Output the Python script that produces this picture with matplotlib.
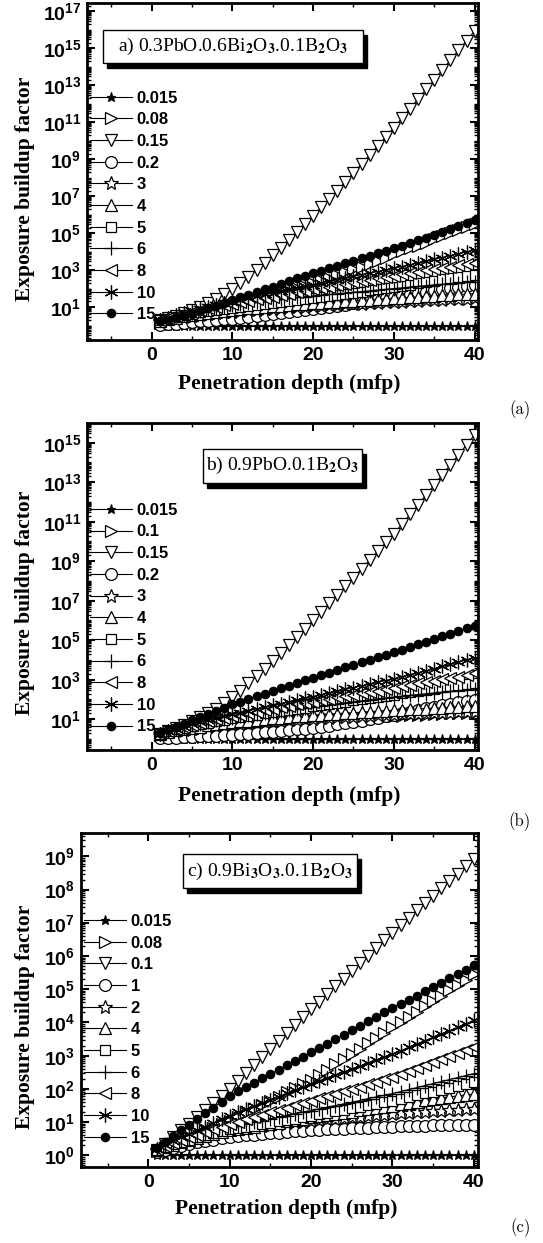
import numpy as np
import matplotlib
matplotlib.use('Agg')
import matplotlib.pyplot as plt
from matplotlib.patches import Rectangle
from matplotlib.ticker import (FixedLocator, LogLocator, MultipleLocator,
                               FuncFormatter, NullFormatter)

plt.rcParams['font.family'] = 'Liberation Sans'
plt.rcParams['font.weight'] = 'bold'
plt.rcParams['mathtext.fontset'] = 'custom'
plt.rcParams['mathtext.rm'] = 'Liberation Sans'
plt.rcParams['mathtext.bf'] = 'Liberation Sans:bold'

# penetration depth (mfp)
depth = [1, 2, 3, 4, 5, 6, 7, 8, 9, 10, 11, 12, 13, 14, 15, 16, 17, 18, 19, 20,
         21, 22, 23, 24, 25, 26, 27, 28, 29, 30, 31, 32, 33, 34, 35, 36, 37, 38, 39, 40]

# photon energies (MeV), legend order
energies_a = ['0.015', '0.08', '0.15', '0.2', '3', '4', '5', '6', '8', '10', '15']
energies_b = ['0.015', '0.1', '0.15', '0.2', '3', '4', '5', '6', '8', '10', '15']
energies_c = ['0.015', '0.08', '0.1', '1', '2', '4', '5', '6', '8', '10', '15']

# log10 of exposure buildup factor
# a) 0.3PbO.0.6Bi2O3.0.1B2O3
a_0015 = [0.00, 0.00, 0.00, 0.00, 0.00, 0.00, 0.00, 0.00, 0.00, 0.00, 0.00, 0.00, 0.00, 0.00, 0.00, 0.00, 0.00, 0.00, 0.00, 0.00,
          0.00, 0.00, 0.00, 0.00, 0.00, 0.00, 0.00, 0.00, 0.00, 0.00, 0.00, 0.00, 0.00, 0.00, 0.00, 0.00, 0.00, 0.00, 0.00, 0.00]
a_008 = [0.15, 0.23, 0.31, 0.40, 0.49, 0.58, 0.68, 0.78, 0.89, 1.00, 1.12, 1.24, 1.36, 1.49, 1.62, 1.75, 1.88, 2.02, 2.16, 2.30,
         2.44, 2.59, 2.74, 2.89, 3.04, 3.19, 3.35, 3.51, 3.68, 3.85, 4.01, 4.17, 4.33, 4.49, 4.66, 4.82, 4.99, 5.16, 5.33, 5.50]
a_015 = [0.30, 0.40, 0.52, 0.66, 0.82, 1.00, 1.20, 1.43, 1.69, 1.98, 2.30, 2.64, 3.01, 3.40, 3.80, 4.21, 4.63, 5.06, 5.50, 5.94,
         6.39, 6.84, 7.30, 7.78, 8.26, 8.74, 9.22, 9.71, 10.20, 10.70, 11.22, 11.74, 12.26, 12.78, 13.30, 13.83, 14.36, 14.89, 15.41, 15.93]
a_02 = [0.04, 0.08, 0.11, 0.15, 0.19, 0.22, 0.26, 0.30, 0.34, 0.38, 0.43, 0.47, 0.52, 0.57, 0.62, 0.67, 0.72, 0.77, 0.83, 0.89,
        0.95, 1.01, 1.07, 1.13, 1.20, 1.27, 1.34, 1.41, 1.48, 1.56, 1.63, 1.70, 1.77, 1.84, 1.91, 1.98, 2.04, 2.10, 2.15, 2.20]
a_3 = [0.25, 0.33, 0.40, 0.46, 0.52, 0.57, 0.62, 0.67, 0.71, 0.75, 0.79, 0.82, 0.86, 0.89, 0.92, 0.95, 0.98, 1.00, 1.03, 1.05,
       1.08, 1.10, 1.12, 1.15, 1.17, 1.19, 1.21, 1.24, 1.26, 1.28, 1.30, 1.32, 1.34, 1.36, 1.38, 1.40, 1.42, 1.44, 1.46, 1.48]
a_4 = [0.27, 0.35, 0.43, 0.50, 0.57, 0.63, 0.69, 0.75, 0.80, 0.85, 0.89, 0.93, 0.97, 1.01, 1.04, 1.08, 1.11, 1.14, 1.17, 1.20,
       1.23, 1.26, 1.29, 1.32, 1.35, 1.37, 1.40, 1.43, 1.45, 1.48, 1.50, 1.53, 1.55, 1.58, 1.60, 1.63, 1.65, 1.68, 1.70, 1.73]
a_5 = [0.28, 0.38, 0.47, 0.56, 0.64, 0.71, 0.78, 0.84, 0.90, 0.95, 1.01, 1.06, 1.11, 1.16, 1.21, 1.27, 1.32, 1.37, 1.42, 1.48,
       1.54, 1.60, 1.66, 1.72, 1.78, 1.84, 1.90, 1.96, 2.02, 2.08, 2.15, 2.22, 2.29, 2.36, 2.43, 2.50, 2.57, 2.63, 2.69, 2.75]
a_6 = [0.28, 0.40, 0.51, 0.61, 0.70, 0.79, 0.87, 0.95, 1.03, 1.10, 1.16, 1.22, 1.28, 1.33, 1.38, 1.43, 1.47, 1.52, 1.56, 1.60,
       1.64, 1.68, 1.72, 1.76, 1.80, 1.84, 1.88, 1.92, 1.96, 2.00, 2.04, 2.08, 2.12, 2.16, 2.20, 2.23, 2.27, 2.31, 2.34, 2.38]
a_8 = [0.30, 0.42, 0.53, 0.64, 0.74, 0.84, 0.93, 1.01, 1.09, 1.17, 1.25, 1.33, 1.41, 1.49, 1.57, 1.65, 1.72, 1.80, 1.88, 1.95,
       2.03, 2.10, 2.18, 2.25, 2.33, 2.40, 2.48, 2.55, 2.62, 2.70, 2.77, 2.84, 2.91, 2.98, 3.05, 3.12, 3.19, 3.25, 3.32, 3.38]
a_10 = [0.30, 0.43, 0.55, 0.67, 0.78, 0.89, 1.00, 1.10, 1.20, 1.30, 1.40, 1.50, 1.60, 1.69, 1.78, 1.87, 1.96, 2.05, 2.13, 2.22,
        2.31, 2.40, 2.48, 2.57, 2.66, 2.75, 2.83, 2.92, 3.01, 3.10, 3.19, 3.29, 3.38, 3.48, 3.58, 3.68, 3.78, 3.88, 3.98, 4.08]
a_15 = [0.22, 0.32, 0.42, 0.52, 0.63, 0.78, 0.93, 1.08, 1.23, 1.39, 1.53, 1.67, 1.81, 1.96, 2.11, 2.26, 2.40, 2.55, 2.70, 2.84,
        2.97, 3.10, 3.23, 3.36, 3.50, 3.64, 3.77, 3.91, 4.05, 4.19, 4.33, 4.47, 4.61, 4.76, 4.91, 5.07, 5.23, 5.39, 5.56, 5.73]

# b) 0.9PbO.0.1B2O3
b_0015 = [0.00, 0.00, 0.00, 0.00, 0.00, 0.00, 0.00, 0.00, 0.00, 0.00, 0.00, 0.00, 0.00, 0.00, 0.00, 0.00, 0.00, 0.00, 0.00, 0.00,
          0.00, 0.00, 0.00, 0.00, 0.00, 0.00, 0.00, 0.00, 0.00, 0.00, 0.00, 0.00, 0.00, 0.00, 0.00, 0.00, 0.00, 0.00, 0.00, 0.00]
b_01 = [0.20, 0.27, 0.33, 0.39, 0.45, 0.50, 0.55, 0.60, 0.65, 0.70, 0.73, 0.76, 0.78, 0.81, 0.83, 0.86, 0.88, 0.91, 0.93, 0.95,
        0.97, 0.99, 1.01, 1.03, 1.05, 1.07, 1.09, 1.11, 1.13, 1.15, 1.17, 1.19, 1.21, 1.23, 1.25, 1.27, 1.29, 1.31, 1.32, 1.33]
b_015 = [0.25, 0.40, 0.55, 0.72, 0.90, 1.10, 1.31, 1.54, 1.80, 2.10, 2.45, 2.81, 3.18, 3.56, 3.95, 4.35, 4.75, 5.16, 5.58, 6.00,
         6.43, 6.86, 7.29, 7.73, 8.17, 8.61, 9.05, 9.50, 9.95, 10.40, 10.88, 11.37, 11.86, 12.36, 12.87, 13.37, 13.88, 14.38, 14.89, 15.40]
b_02 = [0.03, 0.05, 0.07, 0.09, 0.11, 0.13, 0.15, 0.17, 0.19, 0.21, 0.24, 0.27, 0.30, 0.33, 0.36, 0.40, 0.44, 0.48, 0.52, 0.57,
        0.62, 0.68, 0.74, 0.80, 0.86, 0.93, 1.00, 1.07, 1.15, 1.23, 1.31, 1.39, 1.47, 1.55, 1.63, 1.71, 1.78, 1.85, 1.91, 1.97]
b_3 = [0.25, 0.33, 0.40, 0.46, 0.52, 0.57, 0.62, 0.67, 0.71, 0.75, 0.78, 0.81, 0.84, 0.87, 0.90, 0.93, 0.95, 0.98, 1.00, 1.03,
       1.05, 1.07, 1.09, 1.11, 1.13, 1.15, 1.17, 1.19, 1.20, 1.22, 1.24, 1.26, 1.28, 1.29, 1.31, 1.33, 1.34, 1.36, 1.37, 1.38]
b_4 = [0.27, 0.35, 0.43, 0.50, 0.57, 0.63, 0.69, 0.75, 0.80, 0.85, 0.89, 0.93, 0.97, 1.01, 1.04, 1.08, 1.11, 1.14, 1.17, 1.20,
       1.23, 1.26, 1.28, 1.31, 1.33, 1.36, 1.38, 1.41, 1.43, 1.45, 1.47, 1.50, 1.52, 1.54, 1.56, 1.58, 1.60, 1.63, 1.65, 1.67]
b_5 = [0.27, 0.38, 0.48, 0.58, 0.67, 0.75, 0.83, 0.91, 0.98, 1.05, 1.11, 1.17, 1.23, 1.29, 1.35, 1.41, 1.47, 1.53, 1.59, 1.65,
       1.71, 1.77, 1.83, 1.89, 1.95, 2.01, 2.07, 2.13, 2.19, 2.25, 2.31, 2.37, 2.43, 2.49, 2.55, 2.61, 2.67, 2.72, 2.77, 2.82]
b_6 = [0.27, 0.39, 0.50, 0.60, 0.69, 0.78, 0.86, 0.94, 1.01, 1.08, 1.14, 1.20, 1.26, 1.32, 1.38, 1.43, 1.48, 1.53, 1.58, 1.63,
       1.68, 1.73, 1.78, 1.83, 1.88, 1.93, 1.98, 2.03, 2.08, 2.13, 2.17, 2.21, 2.25, 2.29, 2.33, 2.37, 2.41, 2.44, 2.48, 2.51]
b_8 = [0.28, 0.40, 0.51, 0.62, 0.72, 0.82, 0.91, 0.99, 1.07, 1.15, 1.23, 1.31, 1.39, 1.46, 1.54, 1.61, 1.68, 1.75, 1.82, 1.89,
       1.96, 2.03, 2.10, 2.17, 2.24, 2.31, 2.38, 2.45, 2.52, 2.60, 2.67, 2.74, 2.81, 2.88, 2.95, 3.02, 3.09, 3.16, 3.24, 3.32]
b_10 = [0.25, 0.38, 0.50, 0.62, 0.74, 0.85, 0.95, 1.05, 1.15, 1.25, 1.34, 1.43, 1.52, 1.61, 1.70, 1.79, 1.88, 1.97, 2.06, 2.15,
        2.24, 2.33, 2.42, 2.51, 2.60, 2.69, 2.78, 2.87, 2.96, 3.05, 3.15, 3.25, 3.35, 3.45, 3.56, 3.67, 3.78, 3.89, 4.00, 4.11]
b_15 = [0.29, 0.45, 0.62, 0.78, 0.95, 1.10, 1.26, 1.42, 1.58, 1.75, 1.89, 2.02, 2.16, 2.29, 2.43, 2.56, 2.70, 2.83, 2.97, 3.10,
        3.23, 3.36, 3.49, 3.62, 3.75, 3.88, 4.01, 4.14, 4.27, 4.40, 4.53, 4.66, 4.80, 4.93, 5.06, 5.20, 5.33, 5.46, 5.60, 5.73]

# c) 0.9Bi3O3.0.1B2O3
c_0015 = [0.00, 0.00, 0.00, 0.00, 0.00, 0.00, 0.00, 0.00, 0.00, 0.00, 0.00, 0.00, 0.00, 0.00, 0.00, 0.00, 0.00, 0.00, 0.00, 0.00,
          0.00, 0.00, 0.00, 0.00, 0.00, 0.00, 0.00, 0.00, 0.00, 0.00, 0.00, 0.00, 0.00, 0.00, 0.00, 0.00, 0.00, 0.00, 0.00, 0.00]
c_008 = [0.12, 0.22, 0.32, 0.42, 0.52, 0.62, 0.72, 0.83, 0.94, 1.05, 1.17, 1.29, 1.41, 1.53, 1.65, 1.77, 1.90, 2.02, 2.15, 2.28,
         2.43, 2.58, 2.74, 2.89, 3.05, 3.21, 3.37, 3.53, 3.69, 3.85, 4.01, 4.17, 4.33, 4.49, 4.65, 4.81, 4.97, 5.13, 5.29, 5.45]
c_01 = [0.15, 0.35, 0.55, 0.75, 0.95, 1.15, 1.36, 1.57, 1.78, 2.00, 2.24, 2.48, 2.72, 2.96, 3.20, 3.44, 3.68, 3.92, 4.16, 4.40,
        4.63, 4.86, 5.09, 5.32, 5.55, 5.78, 6.01, 6.24, 6.47, 6.70, 6.92, 7.14, 7.37, 7.59, 7.81, 8.04, 8.26, 8.48, 8.71, 8.93]
c_1 = [0.10, 0.17, 0.23, 0.29, 0.34, 0.39, 0.43, 0.47, 0.51, 0.55, 0.58, 0.60, 0.62, 0.64, 0.66, 0.68, 0.70, 0.72, 0.74, 0.76,
       0.77, 0.78, 0.80, 0.81, 0.82, 0.83, 0.84, 0.85, 0.86, 0.87, 0.88, 0.89, 0.90, 0.90, 0.91, 0.91, 0.92, 0.92, 0.93, 0.93]
c_2 = [0.15, 0.24, 0.32, 0.40, 0.47, 0.53, 0.59, 0.65, 0.70, 0.75, 0.79, 0.83, 0.86, 0.89, 0.92, 0.95, 0.98, 1.00, 1.02, 1.05,
       1.07, 1.09, 1.11, 1.13, 1.15, 1.17, 1.19, 1.21, 1.23, 1.25, 1.27, 1.29, 1.30, 1.32, 1.33, 1.35, 1.36, 1.37, 1.39, 1.40]
c_4 = [0.16, 0.24, 0.32, 0.39, 0.46, 0.52, 0.58, 0.64, 0.70, 0.75, 0.79, 0.83, 0.87, 0.91, 0.95, 0.99, 1.03, 1.07, 1.11, 1.15,
       1.18, 1.22, 1.25, 1.29, 1.32, 1.36, 1.39, 1.43, 1.46, 1.50, 1.54, 1.58, 1.62, 1.66, 1.70, 1.73, 1.76, 1.79, 1.82, 1.85]
c_5 = [0.17, 0.25, 0.33, 0.40, 0.47, 0.54, 0.60, 0.66, 0.72, 0.78, 0.82, 0.86, 0.90, 0.95, 0.99, 1.03, 1.07, 1.11, 1.16, 1.20,
       1.24, 1.29, 1.33, 1.38, 1.42, 1.47, 1.51, 1.56, 1.60, 1.65, 1.70, 1.76, 1.81, 1.87, 1.92, 1.98, 2.03, 2.09, 2.14, 2.20]
c_6 = [0.18, 0.27, 0.35, 0.43, 0.50, 0.57, 0.64, 0.71, 0.78, 0.85, 0.90, 0.95, 1.00, 1.05, 1.10, 1.15, 1.20, 1.25, 1.30, 1.35,
       1.40, 1.45, 1.50, 1.55, 1.60, 1.65, 1.71, 1.76, 1.81, 1.86, 1.92, 1.98, 2.04, 2.10, 2.16, 2.22, 2.28, 2.34, 2.40, 2.46]
c_8 = [0.18, 0.27, 0.36, 0.45, 0.54, 0.62, 0.70, 0.79, 0.87, 0.95, 1.02, 1.09, 1.16, 1.23, 1.30, 1.37, 1.44, 1.51, 1.58, 1.65,
       1.72, 1.79, 1.86, 1.93, 2.00, 2.07, 2.14, 2.22, 2.29, 2.36, 2.45, 2.54, 2.63, 2.72, 2.81, 2.90, 2.99, 3.08, 3.17, 3.26]
c_10 = [0.20, 0.32, 0.43, 0.54, 0.65, 0.76, 0.87, 0.98, 1.09, 1.20, 1.30, 1.39, 1.49, 1.58, 1.68, 1.77, 1.87, 1.96, 2.06, 2.15,
        2.24, 2.33, 2.42, 2.51, 2.60, 2.69, 2.78, 2.87, 2.96, 3.05, 3.15, 3.25, 3.35, 3.45, 3.55, 3.65, 3.75, 3.85, 3.96, 4.06]
c_15 = [0.22, 0.40, 0.58, 0.76, 0.93, 1.10, 1.27, 1.44, 1.62, 1.80, 1.93, 2.06, 2.19, 2.32, 2.45, 2.58, 2.71, 2.84, 2.97, 3.10,
        3.23, 3.36, 3.49, 3.62, 3.76, 3.90, 4.03, 4.17, 4.31, 4.45, 4.57, 4.69, 4.81, 4.94, 5.07, 5.20, 5.33, 5.46, 5.59, 5.72]

series_a = [a_0015, a_008, a_015, a_02, a_3, a_4, a_5, a_6, a_8, a_10, a_15]
series_b = [b_0015, b_01, b_015, b_02, b_3, b_4, b_5, b_6, b_8, b_10, b_15]
series_c = [c_0015, c_008, c_01, c_1, c_2, c_4, c_5, c_6, c_8, c_10, c_15]

# marker, filled, markersize - same sequence in every panel
styles = [('*', True, 6.5), ('>', False, 9), ('v', False, 9), ('o', False, 8.5),
          ('*', False, 10), ('^', False, 9), ('s', False, 7.5), ('+', False, 10),
          ('<', False, 9), ((6, 2, 0), False, 10), ('o', True, 6)]


def fmt_pow(v, pos):
    return r'$\mathbf{10^{%d}}$' % int(round(np.log10(v)))


def draw_panel(ax, energies, series, xlim, ylim, major, title, box, leg_top,
               ylab_x, xlab_y):
    for e, ys, (m, filled, ms) in zip(energies, series, styles):
        ax.plot(depth, 10 ** np.array(ys), color='black', lw=0.8,
                marker=m, ms=ms, mew=0.9, mec='black',
                mfc='black' if filled else 'white', label=e)
    ax.set_yscale('log')
    ax.set_xlim(*xlim)
    ax.set_ylim(10 ** ylim[0], 10 ** ylim[1])
    ax.yaxis.set_major_locator(major)
    ax.yaxis.set_minor_locator(LogLocator(base=10, subs=np.arange(1, 10), numticks=200))
    ax.yaxis.set_major_formatter(FuncFormatter(fmt_pow))
    ax.yaxis.set_minor_formatter(NullFormatter())
    ax.set_xticks([0, 10, 20, 30, 40])
    ax.xaxis.set_minor_locator(MultipleLocator(5))
    ax.tick_params(which='both', direction='in', top=True, right=True)
    ax.tick_params(which='major', length=6, width=1.5, labelsize=14)
    ax.tick_params(which='minor', length=3, width=1)
    ax.tick_params(axis='x', pad=5)
    ax.tick_params(axis='y', pad=4)
    for s in ax.spines.values():
        s.set_linewidth(2)

    ax.set_xlabel('Penetration depth (mfp)', fontfamily='Liberation Serif',
                  fontweight='bold', fontsize=15.5)
    ax.set_ylabel('Exposure buildup factor', fontfamily='Liberation Serif',
                  fontweight='bold', fontsize=15.5)
    ax.xaxis.set_label_coords(0.517, xlab_y)
    ax.yaxis.set_label_coords(ylab_x, 0.45)

    x0, y0, w, h = box
    ax.add_patch(Rectangle((x0 + 0.011, y0 - 0.016), w, h, transform=ax.transAxes,
                           facecolor='black', edgecolor='black', zorder=6))
    ax.add_patch(Rectangle((x0, y0), w, h, transform=ax.transAxes,
                           facecolor='white', edgecolor='black', lw=1, zorder=7))
    ax.text(x0 + w / 2, y0 + h / 2, title, transform=ax.transAxes, ha='center',
            va='center', fontsize=14, fontfamily='Liberation Serif',
            fontweight='normal', math_fontfamily='stix', zorder=8)

    leg = ax.legend(loc='upper left', bbox_to_anchor=(0.008, leg_top), frameon=False,
                    numpoints=1, handlelength=2.5, handletextpad=0.3,
                    labelspacing=0.40, borderpad=0, borderaxespad=0,
                    prop={'family': 'Liberation Sans', 'weight': 'bold', 'size': 12})
    leg.set_zorder(5)


fig = plt.figure(figsize=(5.43, 12.43), dpi=100)
ax_a = fig.add_axes([0.160, 0.7265, 0.720, 0.2711])
ax_b = fig.add_axes([0.160, 0.3966, 0.720, 0.2631])
ax_c = fig.add_axes([0.149, 0.0611, 0.731, 0.2687])

draw_panel(ax_a, energies_a, series_a, (-8.0, 40.4), (-0.78, 17.45),
           FixedLocator([10.0 ** k for k in range(1, 18, 2)]),
           r'a) 0.3PbO.0.6Bi$_2$O$_3$.0.1B$_2$O$_3$',
           (0.041, 0.822, 0.665, 0.098), 0.740, -0.133, -0.10)
draw_panel(ax_b, energies_b, series_b, (-8.0, 40.4), (-0.56, 16.0),
           FixedLocator([10.0 ** k for k in range(1, 18, 2)]),
           r'b) 0.9PbO.0.1B$_2$O$_3$',
           (0.297, 0.817, 0.406, 0.104), 0.756, -0.133, -0.11)
draw_panel(ax_c, energies_c, series_c, (-8.3, 40.5), (-0.35, 9.7),
           LogLocator(base=10, numticks=20),
           r'c) 0.9Bi$_3$O$_3$.0.1B$_2$O$_3$',
           (0.257, 0.836, 0.438, 0.101), 0.758, -0.116, -0.095)

for lab, yy in (('(a)', 410), ('(b)', 822), ('(c)', 1228)):
    fig.text(531 / 543, 1 - yy / 1243, lab, ha='right', va='center',
             fontfamily='cmr10', fontweight='normal', fontsize=12)

fig.savefig('out.png', dpi=100)
